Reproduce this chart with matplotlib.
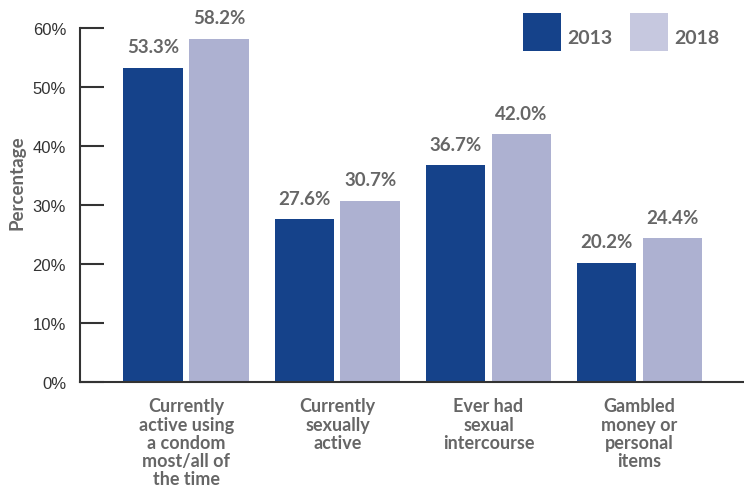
import numpy as np
import matplotlib
matplotlib.use("Agg")
import matplotlib.pyplot as plt
from matplotlib.lines import Line2D

categories = [
    "Currently\nactive using\na condom\nmost/all of\nthe time",
    "Currently\nsexually\nactive",
    "Ever had\nsexual\nintercourse",
    "Gambled\nmoney or\npersonal\nitems",
]
years = ["2013", "2018"]
values_2013 = [53.3, 27.6, 36.7, 20.2]
values_2018 = [58.2, 30.7, 42.0, 24.4]
y_ticks = [0, 10, 20, 30, 40, 50, 60]

DARK = "#15428a"
LIGHT = "#adb1d1"
LEGEND_LIGHT = "#c6c8df"
GREY = "#666666"
BOLD_FONT = ["Lato", "DejaVu Sans"]

fig = plt.figure(figsize=(7.44, 4.89), dpi=100)
ax = fig.add_axes([80 / 744, 1 - 383 / 489, 1 - 80 / 744, (383 - 29) / 489])

x = np.arange(len(categories))
w = 0.397
off = 0.2185
b1 = ax.bar(x - off, values_2013, w, color=DARK)
b2 = ax.bar(x + off, values_2018, w, color=LIGHT)

for bars, vals in [(b1, values_2013), (b2, values_2018)]:
    for rect, v in zip(bars, vals):
        ax.text(rect.get_x() + rect.get_width() / 2, v + 2.1, f"{v:.1f}%",
                ha="center", va="bottom", fontsize=13.5, fontweight="bold",
                color=GREY, family=BOLD_FONT)

ax.set_xlim(-0.705, 3.692)
ax.set_ylim(0, 60)
ax.set_yticks(y_ticks)
ax.set_yticklabels([f"{t}%" for t in y_ticks], fontsize=12, color="#333333",
                   family="Liberation Sans")
ax.tick_params(axis="y", direction="in", length=17, width=1.5, color="#333333", pad=10)

ax.set_xticks(x)
ax.set_xticklabels(categories, fontsize=13, fontweight="bold", color=GREY,
                   family=BOLD_FONT, linespacing=1.09, va="top")
ax.tick_params(axis="x", length=0, pad=11)

for s in ["top", "right"]:
    ax.spines[s].set_visible(False)
for s in ["left", "bottom"]:
    ax.spines[s].set_linewidth(1.5)
    ax.spines[s].set_color("#333333")

ax.set_ylabel("Percentage", fontsize=13.5, fontweight="bold", color=GREY,
              family=BOLD_FONT)
ax.yaxis.set_label_coords(-0.082, 0.565)

handles = [
    Line2D([], [], marker="s", markersize=27.5, linestyle="none",
           markerfacecolor=c, markeredgewidth=0, label=y)
    for c, y in zip([DARK, LEGEND_LIGHT], years)
]
leg = fig.legend(handles=handles, loc="upper right", bbox_to_anchor=(741 / 744, 1 - 1 / 489),
                 ncol=2, frameon=False, handlelength=1.9, handleheight=2.0,
                 handletextpad=0.35, columnspacing=0.95, borderpad=0.6,
                 prop={"family": BOLD_FONT, "weight": "bold", "size": 14})
for t in leg.get_texts():
    t.set_color(GREY)

fig.savefig("out.png", dpi=100)
